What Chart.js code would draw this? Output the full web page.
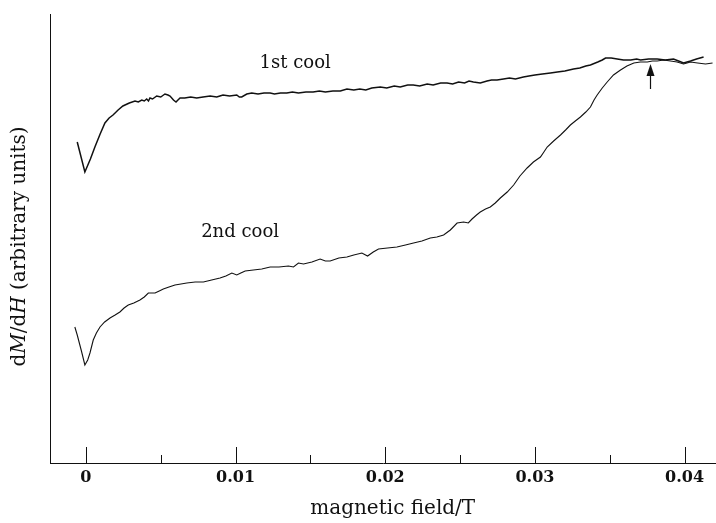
<!DOCTYPE html>
<html>
<head>
<meta charset="utf-8">
<script src="https://cdn.jsdelivr.net/npm/chart.js@4"></script>
<style>
  html, body { margin: 0; padding: 0; background: #fff; }
  #wrap { width: 716px; height: 523px; }
</style>
</head>
<body>
<div id="wrap"><canvas id="dmdh"></canvas></div>
<script>
// field (T) vs dM/dH (arbitrary units)
const cool1Points = [
    [-0.00058, 321], [-0.00007, 291], [0.00030, 304], [0.00060, 316], [0.00095, 329],
    [0.00127, 340], [0.00155, 345], [0.00181, 348], [0.00215, 353], [0.00247, 357],
    [0.00290, 360], [0.00328, 362], [0.00350, 361], [0.00373, 363], [0.00390, 362],
    [0.00406, 364], [0.00418, 362], [0.00428, 365], [0.00445, 364], [0.00473, 367],
    [0.00500, 366], [0.00528, 369], [0.00548, 368], [0.00562, 367], [0.00585, 363],
    [0.00602, 361], [0.00615, 363], [0.00629, 365], [0.00660, 365], [0.00700, 366],
    [0.00740, 365], [0.00783, 366], [0.00830, 367], [0.00874, 366], [0.00895, 367],
    [0.00916, 368], [0.00960, 367], [0.01008, 368], [0.01025, 366], [0.01041, 366],
    [0.01075, 369], [0.01108, 370], [0.01150, 369], [0.01190, 370], [0.01231, 370],
    [0.01260, 369], [0.01300, 370], [0.01342, 370], [0.01380, 371], [0.01420, 370],
    [0.01470, 371], [0.01518, 371], [0.01560, 372], [0.01600, 371], [0.01650, 372],
    [0.01700, 372], [0.01744, 374], [0.01790, 373], [0.01830, 374], [0.01870, 373],
    [0.01910, 375], [0.01967, 376], [0.02010, 375], [0.02060, 377], [0.02100, 376],
    [0.02150, 378], [0.02187, 378], [0.02230, 377], [0.02280, 379], [0.02320, 378],
    [0.02370, 380], [0.02413, 380], [0.02450, 379], [0.02490, 381], [0.02530, 380],
    [0.02560, 382], [0.02589, 381], [0.02635, 380], [0.02680, 382], [0.02710, 383],
    [0.02747, 383], [0.02790, 384], [0.02830, 385], [0.02870, 384], [0.02923, 386],
    [0.02960, 387], [0.03000, 388], [0.03050, 389], [0.03104, 390], [0.03150, 391],
    [0.03200, 392], [0.03258, 394], [0.03300, 395], [0.03340, 397], [0.03371, 398],
    [0.03420, 401], [0.03450, 403], [0.03472, 405], [0.03510, 405], [0.03550, 404],
    [0.03592, 403], [0.03640, 403], [0.03680, 404], [0.03706, 403], [0.03760, 404],
    [0.03817, 404], [0.03870, 403], [0.03926, 404], [0.03960, 402], [0.03993, 400],
    [0.04040, 402], [0.04080, 404], [0.04127, 406],
];

const cool2Points = [
    [-0.00074, 136], [-0.00058, 128], [-0.00030, 112], [-0.00007, 98], [0.00012, 103],
    [0.00027, 110], [0.00049, 123], [0.00070, 130], [0.00094, 136], [0.00125, 141],
    [0.00161, 145], [0.00195, 148], [0.00227, 151], [0.00255, 155], [0.00283, 158],
    [0.00320, 160], [0.00361, 163], [0.00390, 166], [0.00417, 170], [0.00440, 170],
    [0.00462, 170], [0.00490, 172], [0.00517, 174], [0.00555, 176], [0.00595, 178],
    [0.00635, 179], [0.00674, 180], [0.00730, 181], [0.00785, 181], [0.00840, 183],
    [0.00896, 185], [0.00935, 187], [0.00975, 190], [0.01008, 188], [0.01035, 190],
    [0.01064, 192], [0.01119, 193], [0.01175, 194], [0.01231, 196], [0.01290, 196],
    [0.01353, 197], [0.01387, 196], [0.01420, 200], [0.01454, 199], [0.01510, 201],
    [0.01565, 204], [0.01600, 202], [0.01632, 202], [0.01690, 205], [0.01744, 206],
    [0.01790, 208], [0.01844, 210], [0.01882, 207], [0.01920, 211], [0.01955, 214],
    [0.02015, 215], [0.02078, 216], [0.02135, 218], [0.02189, 220], [0.02245, 222],
    [0.02301, 225], [0.02345, 226], [0.02390, 228], [0.02435, 233], [0.02480, 240],
    [0.02524, 241], [0.02555, 240], [0.02580, 244], [0.02610, 248], [0.02635, 251],
    [0.02670, 254], [0.02702, 256], [0.02735, 260], [0.02769, 265], [0.02815, 271],
    [0.02858, 278], [0.02900, 287], [0.02948, 295], [0.02990, 301], [0.03037, 306],
    [0.03060, 311], [0.03082, 316], [0.03125, 322], [0.03171, 328], [0.03205, 333],
    [0.03237, 338], [0.03270, 342], [0.03304, 346], [0.03340, 351], [0.03371, 356],
    [0.03395, 363], [0.03416, 368], [0.03450, 375], [0.03483, 381], [0.03525, 388],
    [0.03572, 393], [0.03615, 397], [0.03661, 400], [0.03705, 401], [0.03751, 401],
    [0.03785, 402], [0.03817, 402], [0.03860, 403], [0.03906, 402], [0.03950, 401],
    [0.03993, 399], [0.04040, 401], [0.04087, 400], [0.04140, 399], [0.04187, 400],
];

const tickValues = [0, 0.005, 0.01, 0.015, 0.02, 0.025, 0.03, 0.035, 0.04];
const tickLabels = ['0', '', '0.01', '', '0.02', '', '0.03', '', '0.04'];

// annotations: text at [field, signal], arrow at field from -> to
const curveNotes = [
    { text: '1st cool', at: [0.01398, 400] },
    { text: '2nd cool', at: [0.0103, 231] },
];
const arrowMark = { x: 0.0377, from: 374, to: 399 };
const xTitle = { text: 'magnetic field/T', at: 0.0205 };

const SERIF = '"DejaVu Serif", "Liberation Serif", serif';
const INK = '#111';

const toXY = pts => pts.map(p => ({ x: p[0], y: p[1] }));

// ticks on the x axis point up into the plot
const innerTicks = {
    id: 'innerTicks',
    afterDraw(chart) {
        const ctx = chart.ctx;
        const xs = chart.scales.x;
        const base = chart.chartArea.bottom;
        ctx.save();
        ctx.strokeStyle = INK;
        ctx.lineWidth = 1;
        tickValues.forEach((v, i) => {
            const px = Math.round(xs.getPixelForValue(v)) + 0.5;
            const len = tickLabels[i] ? 16 : 8;
            ctx.beginPath();
            ctx.moveTo(px, base);
            ctx.lineTo(px, base - len);
            ctx.stroke();
        });
        ctx.restore();
    },
};

// curve labels, arrow, axis titles (y title with italic M and H)
const notes = {
    id: 'notes',
    afterDraw(chart) {
        const ctx = chart.ctx;
        const xs = chart.scales.x, ys = chart.scales.y;
        ctx.save();
        ctx.fillStyle = INK;
        ctx.strokeStyle = INK;
        ctx.font = '18px ' + SERIF;
        ctx.textAlign = 'center';
        ctx.textBaseline = 'middle';
        curveNotes.forEach(n => {
            ctx.fillText(n.text, xs.getPixelForValue(n.at[0]), ys.getPixelForValue(n.at[1]));
        });

        ctx.font = '20px ' + SERIF;
        ctx.fillText(xTitle.text, xs.getPixelForValue(xTitle.at), 509);

        const ax = Math.round(xs.getPixelForValue(arrowMark.x)) + 0.5;
        const y0 = ys.getPixelForValue(arrowMark.from);
        const y1 = ys.getPixelForValue(arrowMark.to);
        ctx.lineWidth = 1.2;
        ctx.beginPath();
        ctx.moveTo(ax, y0);
        ctx.lineTo(ax, y1 + 8);
        ctx.stroke();
        ctx.beginPath();
        ctx.moveTo(ax, y1);
        ctx.lineTo(ax - 4, y1 + 12);
        ctx.lineTo(ax + 4, y1 + 12);
        ctx.closePath();
        ctx.fill();

        const parts = [
            ['d', 'normal'], ['M', 'italic'], ['/d', 'normal'], ['H', 'italic'],
            [' (arbitrary units)', 'normal'],
        ];
        const size = 20;
        let total = 0;
        parts.forEach(p => {
            ctx.font = p[1] + ' ' + size + 'px ' + SERIF;
            total += ctx.measureText(p[0]).width;
        });
        ctx.translate(20, (chart.chartArea.top + chart.chartArea.bottom) / 2 + 8);
        ctx.rotate(-Math.PI / 2);
        ctx.textAlign = 'left';
        let cx = -total / 2;
        parts.forEach(p => {
            ctx.font = p[1] + ' ' + size + 'px ' + SERIF;
            ctx.fillText(p[0], cx, 0);
            cx += ctx.measureText(p[0]).width;
        });
        ctx.restore();
    },
};

new Chart(document.getElementById('dmdh'), {
    type: 'line',
    data: {
        datasets: [
            {
                label: '1st cool',
                data: toXY(cool1Points),
                borderColor: INK,
                borderWidth: 1.5,
                pointRadius: 0,
                tension: 0,
                fill: false,
            },
            {
                label: '2nd cool',
                data: toXY(cool2Points),
                borderColor: INK,
                borderWidth: 1.1,
                pointRadius: 0,
                tension: 0,
                fill: false,
            },
        ],
    },
    options: {
        responsive: true,
        maintainAspectRatio: false,
        animation: false,
        events: [],
        layout: { padding: { top: 14, right: 0, left: 0, bottom: 0 } },
        plugins: { legend: { display: false }, tooltip: { enabled: false } },
        scales: {
            x: {
                type: 'linear',
                min: -0.0024,
                max: 0.0421,
                afterBuildTicks: s => { s.ticks = tickValues.map(v => ({ value: v })); },
                afterFit: s => { s.height = 60; },
                grid: { drawOnChartArea: false, drawTicks: false },
                border: { display: true, color: INK, width: 1 },
                ticks: {
                    autoSkip: false,
                    maxRotation: 0,
                    padding: 5,
                    color: INK,
                    font: { family: SERIF, size: 16, weight: 'bold' },
                    callback: (v, i) => tickLabels[i],
                },
            },
            y: {
                type: 'linear',
                min: 0,
                max: 449,
                afterFit: s => { s.width = 50; },
                grid: { drawOnChartArea: false, drawTicks: false },
                border: { display: true, color: INK, width: 1 },
                ticks: { display: false },
            },
        },
    },
    plugins: [innerTicks, notes],
});
</script>
</body>
</html>
